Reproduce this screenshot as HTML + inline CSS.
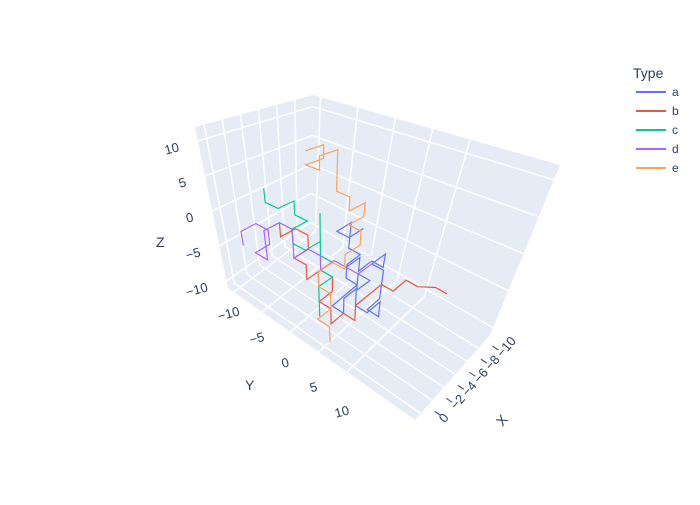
<!DOCTYPE html>
<html><head><meta charset="utf-8"><style>
body{margin:0;background:#fff;font-family:"Liberation Sans",sans-serif}
svg text{font-family:"Liberation Sans",sans-serif;fill:#2a3f5f}
</style></head><body>
<svg id="c" width="700" height="500"></svg>
<script>
const xTicks=[0,-2,-4,-6,-8,-10];
const yTicks=[-10,-5,0,5,10];
const zTicks=[-10,-5,0,5,10];
const seriesNames=['a','b','c','d','e'];
const seriesColors=['#636efa','#EF553B','#00cc96','#ab63fa','#FFA15A'];
const walkA=[[-6,2,-6],[-8,2,-6],[-8,2,-8],[-10,2,-8],[-10,4,-8],[-10,4,-6],[-8,4,-6],[-8,6,-6],[-8,6,-8],[-8,6,-10],[-6,6,-10],[-6,8,-10],[-6,8,-8],[-4,8,-8],[-4,6,-8],[-4,6,-6],[-6,6,-6],[-6,4,-6],[-6,4,-8],[-4,4,-8],[-4,4,-10],[-4,2,-10],[-6,2,-10],[-8,2,-10],[-8,0,-10],[-8,0,-8],[-10,0,-8],[-10,-2,-8],[-10,-2,-6],[-10,-2,-4],[-8,-2,-4],[-8,0,-4],[-10,0,-4]];
const walkB=[[-2,-4,0],[-2,-4,-2],[-4,-4,-2],[-4,-2,-2],[-4,-2,-4],[-2,-2,-4],[-2,0,-4],[-2,0,-6],[-4,0,-6],[-4,2,-6],[-4,2,-8],[-2,2,-8],[-2,4,-8],[-2,4,-10],[-4,4,-10],[-4,6,-10],[-4,6,-8],[-6,6,-8],[-8,6,-8],[-8,8,-8],[-10,8,-8],[-10,10,-8],[-11,12,-8],[-11,14,-8]];
const walkC=[[-2,-6,4],[-2,-6,2],[-2,-4,2],[-4,-4,2],[-4,-4,0],[-4,-2,0],[-2,-2,0],[-2,-2,-2],[-2,0,-2],[-4,0,-2],[-4,0,-4],[-4,2,-4],[-2,2,-4],[-2,2,-6],[-2,2,-8],[-2,2,-10],[-2,2,-6],[-4,2,-6],[-4,0,-6],[-4,0,-2],[-4,0,2],[-4,0,-2]];
const walkD=[[0,-8,-4],[0,-8,-2],[-2,-8,-2],[-2,-6,-2],[-2,-6,-4],[0,-6,-4],[0,-4,-4],[0,-4,0],[-2,-4,0],[-2,-2,0],[-2,-2,-2],[-2,-2,-4],[-4,-2,-4],[-4,0,-4],[-4,0,-6],[-6,0,-6],[-6,2,-6],[-6,4,-6],[-8,4,-6]];
const walkE=[[-4,-2,10],[-6,-2,10],[-6,-2,8],[-4,-2,8],[-4,0,8],[-4,0,10],[-6,0,10],[-6,0,8],[-6,0,6],[-6,0,4],[-6,2,4],[-6,2,2],[-8,2,2],[-8,2,0],[-6,2,0],[-6,4,0],[-6,4,-2],[-4,4,-2],[-4,4,-4],[-4,2,-4],[-2,2,-4],[-2,2,-6],[-2,4,-6],[-2,4,-8],[0,4,-8],[0,6,-8],[0,6,-10]];
const walks=[walkA,walkB,walkC,walkD,walkE];

const XR=[1,-12],YR=[-11,22],ZR=[-11,12];
const C={'000':[228,288],'010':[415,420],'110':[490,335],'100':[310,228],
 '001':[195,127],'011':[425,215],'111':[560,165],'101':[313,95]};
function P(x,y,z){
 const u=(x-XR[0])/(XR[1]-XR[0]),v=(y-YR[0])/(YR[1]-YR[0]),w=(z-ZR[0])/(ZR[1]-ZR[0]);
 let sx=0,sy=0;
 for(const i of [0,1])for(const j of [0,1])for(const k of [0,1]){
  const wt=(i?u:1-u)*(j?v:1-v)*(k?w:1-w);const p=C[''+i+j+k];sx+=wt*p[0];sy+=wt*p[1];}
 return [sx,sy];
}
const svg=document.getElementById('c');const NS='http://www.w3.org/2000/svg';
function el(t,a,txt){const e=document.createElementNS(NS,t);for(const k in a)e.setAttribute(k,a[k]);if(txt!==undefined)e.textContent=txt;svg.appendChild(e);return e;}
function poly(pts){return pts.map(p=>p.join(',')).join(' ');}
function neg(v){return v<0?'\u2212'+(-v):''+v;}
const wl=el('polygon',{points:poly([P(XR[0],YR[0],ZR[0]),P(XR[1],YR[0],ZR[0]),P(XR[1],YR[0],ZR[1]),P(XR[0],YR[0],ZR[1])]),fill:'#E5ECF6'});

const wr=el('polygon',{points:poly([P(XR[1],YR[0],ZR[0]),P(XR[1],YR[1],ZR[0]),P(XR[1],YR[1],ZR[1]),P(XR[1],YR[0],ZR[1])]),fill:'#E5ECF6'});

const fl=el('polygon',{points:poly([P(XR[0],YR[0],ZR[0]),P(XR[1],YR[0],ZR[0]),P(XR[1],YR[1],ZR[0]),P(XR[0],YR[1],ZR[0])]),fill:'#E5ECF6'});

function gl(a,b){const l=el('line',{x1:a[0],y1:a[1],x2:b[0],y2:b[1],stroke:'#fff','stroke-width':1.5});
 }
for(const x of xTicks){gl(P(x,YR[0],ZR[0]),P(x,YR[0],ZR[1]));gl(P(x,YR[0],ZR[0]),P(x,YR[1],ZR[0]));}
for(const y of yTicks){gl(P(XR[1],y,ZR[0]),P(XR[1],y,ZR[1]));gl(P(XR[0],y,ZR[0]),P(XR[1],y,ZR[0]));}
for(const z of zTicks){gl(P(XR[0],YR[0],z),P(XR[1],YR[0],z));gl(P(XR[1],YR[0],z),P(XR[1],YR[1],z));}
walks.forEach((w,i)=>{
 const pl=el('polyline',{points:poly(w.map(p=>P(p[0],p[1],p[2]))),fill:'none',stroke:seriesColors[i],'stroke-width':1.2});
 
 
});
for(const z of zTicks){const p=P(XR[0],YR[0],z);const tx=p[0]-18,ty=p[1]+10;
 const t=el('text',{x:tx,y:ty,'font-size':13,'text-anchor':'end',transform:`rotate(-15 ${tx} ${ty})`},neg(z));
 }
for(const y of yTicks){const p=P(XR[0],y,ZR[0]);const tx=p[0]-4,ty=p[1]+26+(y+10)*0.9;
 const t=el('text',{x:tx,y:ty,'font-size':13,'text-anchor':'middle',transform:`rotate(-15 ${tx} ${ty})`},neg(y));
 }
for(const x of xTicks){const p=P(x,YR[1],ZR[0]);
 const tx=p[0]+24,ty=p[1]+10;
 const tk=el('line',{x1:p[0]+14,y1:p[1]-2,x2:p[0]+20,y2:p[1]+2,stroke:'#2a3f5f','stroke-width':1});
 
 const t=el('text',{x:tx,y:ty,'font-size':13,'text-anchor':'start',transform:`rotate(-50 ${tx} ${ty})`},neg(x));
 }
const zt=el('text',{x:156,y:247,'font-size':14},'Z');
const yt=el('text',{x:245,y:390,'font-size':14},'Y');
const xt=el('text',{x:497,y:425,'font-size':14,transform:'rotate(-50 502 420)'},'X');
const lt=el('text',{x:633,y:78,'font-size':14},'Type');
seriesNames.forEach((n,i)=>{const y=92+i*19;
 const g=document.createElementNS(NS,'g');svg.appendChild(g);
 
 
 const l=document.createElementNS(NS,'line');
 l.setAttribute('x1',636);l.setAttribute('x2',666);l.setAttribute('y1',y);l.setAttribute('y2',y);l.setAttribute('stroke',seriesColors[i]);l.setAttribute('stroke-width',2);g.appendChild(l);
 const t=document.createElementNS(NS,'text');t.setAttribute('x',672);t.setAttribute('y',y+4);t.setAttribute('font-size',12);t.textContent=n;g.appendChild(t);
});
</script>
</body></html>
